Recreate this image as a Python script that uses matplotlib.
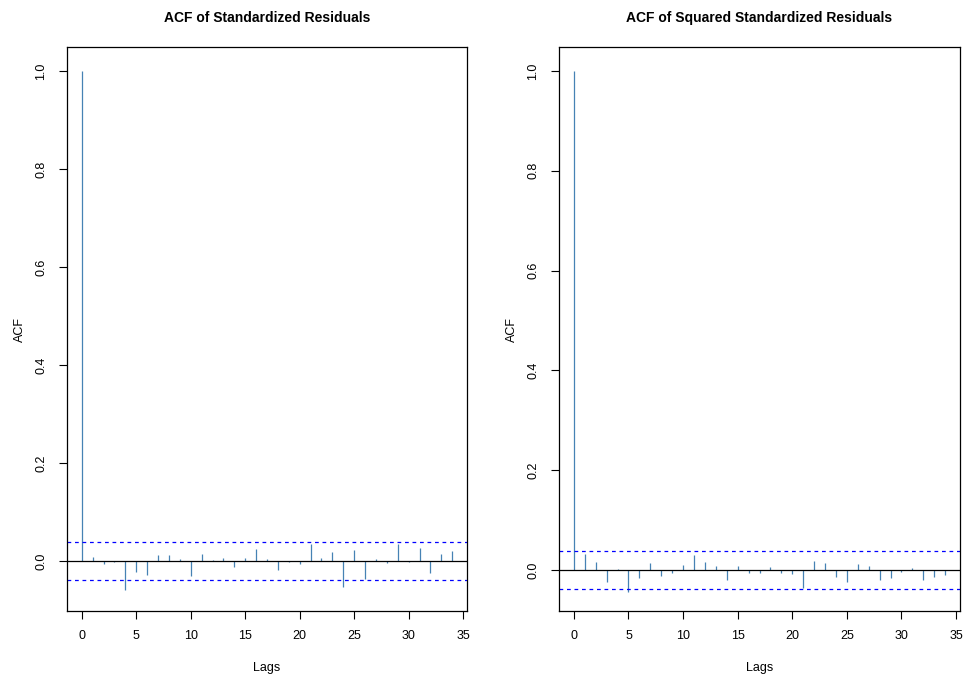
import numpy as np
import matplotlib.pyplot as plt

plt.rcParams['font.family'] = ['Liberation Sans', 'DejaVu Sans']

lags = np.arange(0, 35)

# ACF of standardized residuals (lags 0..34)
acf_std = [1.0, 0.008, -0.006, -0.003, -0.059, -0.023, -0.028, 0.013, 0.013, 0.004,
           -0.030, 0.014, 0.003, 0.006, -0.013, 0.007, 0.025, 0.004, -0.019, -0.003,
           -0.006, 0.035, 0.007, 0.018, -0.053, 0.023, -0.037, 0.004, -0.004, 0.035,
           -0.003, 0.027, -0.024, 0.014, 0.020]

# ACF of squared standardized residuals (lags 0..34)
acf_sq = [1.0, 0.033, 0.017, -0.023, 0.003, -0.043, -0.015, 0.015, -0.011, -0.005,
          0.010, 0.030, 0.017, 0.009, -0.019, 0.008, -0.006, -0.005, 0.007, -0.005,
          -0.007, -0.035, 0.018, 0.015, -0.013, -0.023, 0.013, 0.009, -0.020, -0.015,
          -0.003, 0.005, -0.019, -0.013, -0.010]

conf_std = 0.0385
conf_sq = 0.0375

titles = ["ACF of Standardized Residuals", "ACF of Squared Standardized Residuals"]

fig = plt.figure(figsize=(9.65, 6.75), dpi=100)
ax1 = fig.add_axes([67/965, 64/675, 400/965, 564/675])
ax2 = fig.add_axes([559/965, 64/675, 401/965, 564/675])


def draw_acf(ax, vals, conf, title, ylim):
    ax.vlines(lags, 0, vals, color='#4682B4', linewidth=0.9)
    ax.axhline(0, color='black', linewidth=0.9)
    ax.axhline(conf, color='blue', linestyle=(0, (3, 3)), linewidth=0.9)
    ax.axhline(-conf, color='blue', linestyle=(0, (3, 3)), linewidth=0.9)
    ax.set_xlim(-1.36, 35.36)
    ax.set_ylim(*ylim)
    ax.set_xticks(np.arange(0, 36, 5))
    ax.set_yticks([0.0, 0.2, 0.4, 0.6, 0.8, 1.0])
    ax.set_yticklabels(['0.0', '0.2', '0.4', '0.6', '0.8', '1.0'], rotation=90, va='center')
    ax.tick_params(direction='out', length=6, width=0.8, labelsize=9, pad=8)
    ax.set_title(title, fontsize=10, fontweight='bold', pad=18)
    ax.set_xlabel("Lags", fontsize=9, labelpad=14)
    ax.set_ylabel("ACF", fontsize=9, labelpad=7)
    for s in ax.spines.values():
        s.set_linewidth(0.9)


draw_acf(ax1, acf_std, conf_std, titles[0], (-0.102, 1.049))
draw_acf(ax2, acf_sq, conf_sq, titles[1], (-0.082, 1.048))

fig.savefig("out.png", dpi=100)
